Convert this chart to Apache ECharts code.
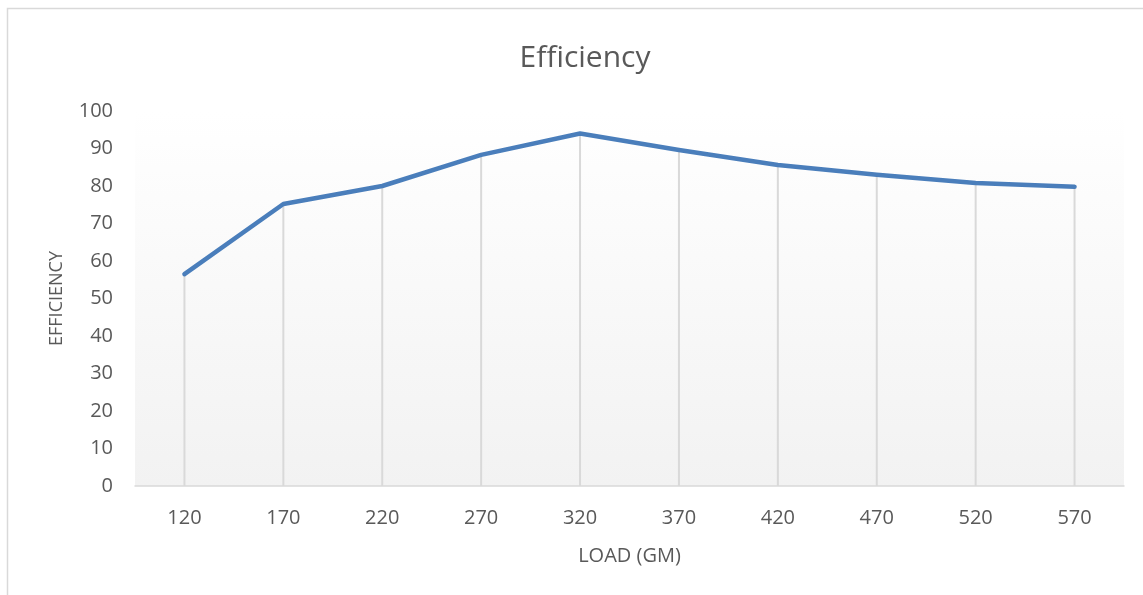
<!DOCTYPE html>
<html>
<head>
<meta charset="utf-8">
<script src="https://cdn.jsdelivr.net/npm/echarts@6/dist/echarts.min.js"></script>
<style>
html,body{margin:0;padding:0;background:#fff;}
#chart{width:1143px;height:595px;}
</style>
</head>
<body>
<div id="chart"></div>
<script>
const categories = ['120','170','220','270','320','370','420','470','520','570'];
const efficiency = [56.5, 75.2, 80, 88.3, 94, 89.6, 85.6, 83, 80.8, 79.8];
const yTicks = [0,10,20,30,40,50,60,70,80,90,100];

const chart = echarts.init(document.getElementById('chart'));
const font = '"Open Sans", "Noto Sans", sans-serif';
chart.setOption({
  animation: false,
  backgroundColor: '#ffffff',
  graphic: [{
    type: 'rect', silent: true, z: -10,
    shape: {x: 7.5, y: 8.5, width: 1200, height: 700},
    style: {fill: 'none', stroke: '#d9d9d9', lineWidth: 1.5}
  }],
  title: {
    text: 'Efficiency', left: 580, top: 38, textAlign: 'center',
    textStyle: {color: '#595959', fontSize: 30, fontWeight: 'normal', fontFamily: font}
  },
  grid: {
    left: 135, right: 19, top: 111, bottom: 109,
    show: true, borderWidth: 0,
    backgroundColor: new echarts.graphic.LinearGradient(0, 0, 0, 1, [
      {offset: 0, color: '#ffffff'}, {offset: 1, color: '#f2f2f2'}
    ])
  },
  xAxis: {
    type: 'category', data: categories, boundaryGap: true,
    name: 'LOAD (GM)', nameLocation: 'middle', nameGap: 60,
    nameTextStyle: {color: '#595959', fontSize: 20, fontFamily: font},
    axisLine: {lineStyle: {color: '#d9d9d9', width: 1.5}},
    axisTick: {show: false},
    axisLabel: {color: '#595959', fontSize: 20, fontFamily: font, margin: 22},
    splitLine: {show: false}
  },
  yAxis: {
    type: 'value', min: 0, max: 100, interval: 10,
    name: 'EFFICIENCY', nameLocation: 'middle', nameGap: 69, nameRotate: 90,
    nameTextStyle: {color: '#595959', fontSize: 18, fontFamily: font, letterSpacing: 2.5},
    axisLine: {show: false}, axisTick: {show: false},
    axisLabel: {color: '#595959', fontSize: 20, fontFamily: font, margin: 22,
      formatter: v => yTicks.includes(v) ? String(v) : ''},
    splitLine: {show: false}
  },
  series: [{
    type: 'bar', data: efficiency, barWidth: 2, silent: true, z: 1,
    itemStyle: {color: '#d9d9d9'}
  }, {
    type: 'line', data: efficiency, showSymbol: false, symbol: 'none', z: 3,
    lineStyle: {color: '#4a7ebb', width: 4.5, cap: 'round', join: 'round'}
  }]
});
</script>
</body>
</html>
